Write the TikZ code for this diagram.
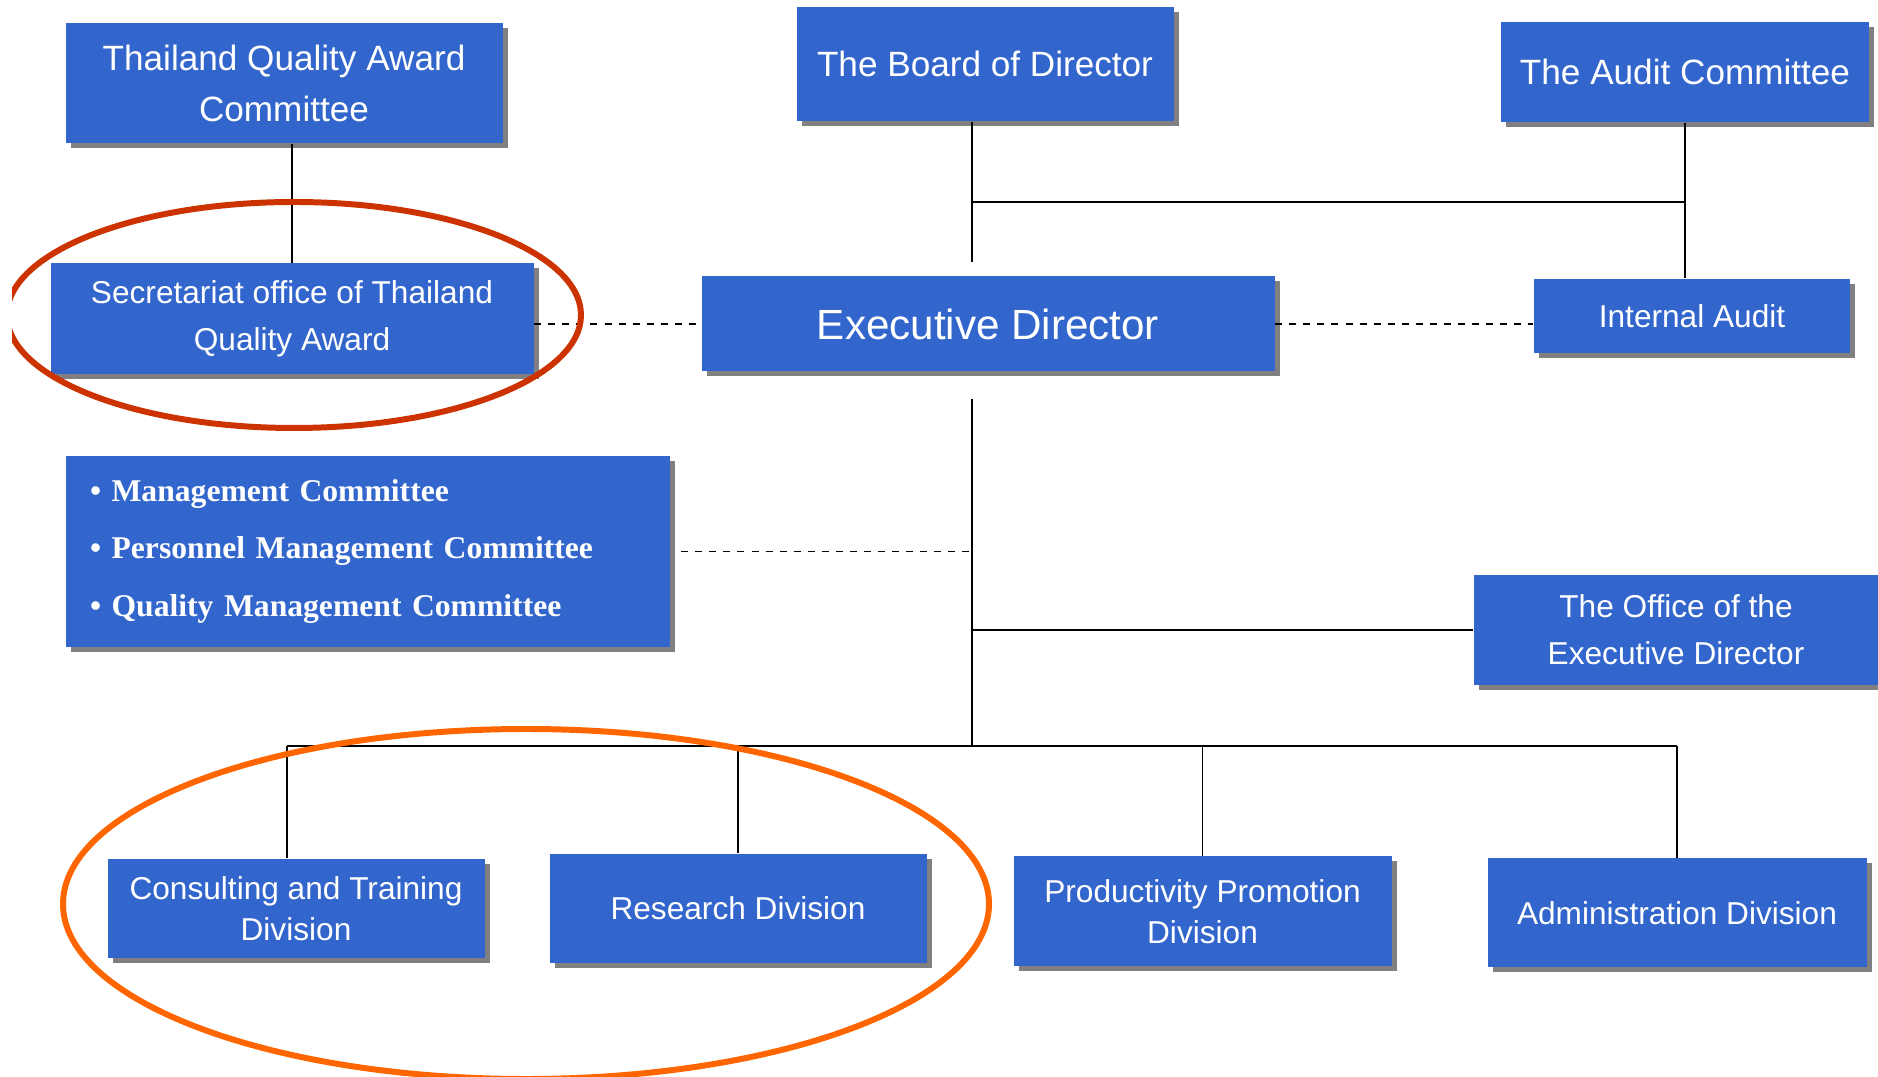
\documentclass[tikz,border=0pt]{standalone}
\usepackage{fontspec}
\setmainfont{Liberation Sans}
\newfontfamily\serifbold{Liberation Serif}
\usetikzlibrary{shadows}
\definecolor{boxblue}{HTML}{3366CC}
\definecolor{shadowgray}{HTML}{808080}
\definecolor{ringred}{HTML}{CC3300}
\definecolor{ringorange}{HTML}{FF6600}
\tikzset{
    unit/.style={fill=boxblue, text=white, align=center, inner sep=0pt,
        drop shadow={shadow xshift=0.5mm, shadow yshift=-0.5mm, fill=shadowgray, opacity=1}},
    bigtext/.style={font=\fontsize{10}{14.5}\selectfont},
    midtext/.style={font=\fontsize{9}{13.3}\selectfont},
    divtext/.style={font=\fontsize{9}{11.6}\selectfont},
    link/.style={line width=0.5pt},
    dashline/.style={line width=0.55pt, dash pattern=on 2pt off 2pt},
    ring/.style={line width=1.7pt}
}
\begin{document}
\begin{tikzpicture}[x=0.1mm, y=-0.1mm]
            \useasboundingbox (0,0) rectangle (1878,1077);
            \clip (12,0) rectangle (1878,1077);

            \node[unit, bigtext, minimum width=43.7mm, minimum height=12mm] (tqa) at (284,83) {Thailand Quality Award\\Committee};
            \node[unit, bigtext, minimum width=37.7mm, minimum height=11.4mm] (brd) at (985,64) {The Board of Director};
            \node[unit, bigtext, minimum width=36.8mm, minimum height=10mm] (aud) at (1685,72) {The Audit Committee};
            \node[unit, midtext, minimum width=48.3mm, minimum height=11.1mm] (sec) at (292,319) {Secretariat office of Thailand\\Quality Award};
            \node[unit, font=\fontsize{12}{14}\selectfont, minimum width=57.3mm, minimum height=9.5mm] (ed) at (988,324) {Executive Director};
            \node[unit, midtext, minimum width=31.6mm, minimum height=7.4mm] (ia) at (1692,316) {Internal Audit};
            \node[unit, font=\serifbold\bfseries\fontsize{9}{16.4}\selectfont, align=left, text width=55.6mm, inner xsep=2.4mm, minimum height=19.05mm] (cmt) at (368,551.5)
                {\textbullet\ Management Committee\\\textbullet\ Personnel Management Committee\\\textbullet\ Quality Management Committee};
            \node[unit, midtext, minimum width=40.5mm, minimum height=11mm] (off) at (1676,630) {The Office of the\\Executive Director};
            \node[unit, divtext, minimum width=37.7mm, minimum height=9.9mm] (con) at (296,908.5) {Consulting and Training\\Division};
            \node[unit, divtext, minimum width=37.7mm, minimum height=10.9mm] (res) at (738,908.5) {Research Division};
            \node[unit, divtext, minimum width=37.8mm, minimum height=11mm] (pro) at (1202.5,911.5) {Productivity Promotion\\Division};
            \node[unit, divtext, minimum width=37.9mm, minimum height=10.9mm] (adm) at (1677,913) {Administration Division};

            \coordinate (top) at (972,262);
            \coordinate (jn) at (972,202);
            \coordinate (low) at (972,399);
            \coordinate (bus) at (972,746);
            \coordinate (conin) at ([xshift=-0.9mm]con.north);

            \draw[link] (sec.north) -- (sec.north |- tqa.south);
            \draw[link] (brd.south -| top) -- (top);
            \draw[link] (jn) -- (jn -| aud.south);
            \draw[link] (aud.south) -- (aud.south |- ia.north);
            \draw[link] (low) -- (bus);
            \draw[link] (off.west -| low) -- (off.west);
            \draw[link] (bus -| conin) -- (bus -| adm.north);
            \foreach \d in {conin,res.north,pro.north,adm.north} {
                \draw[link] (bus -| \d) -- (\d);
            }

            \draw[dashline] (ed.west -| sec.east) -- (ed.west);
            \draw[dashline] (ed.east) -- (ed.east -| ia.west);
            \draw[dashline] ([xshift=1.05mm]cmt.east) -- (cmt.east -| low);

            \draw[ring, ringred] (294,315) ellipse [x radius=28.7mm, y radius=11.3mm];
            \draw[ring, ringorange] (526,904) ellipse [x radius=46.3mm, y radius=17.5mm];
\end{tikzpicture}
\end{document}
